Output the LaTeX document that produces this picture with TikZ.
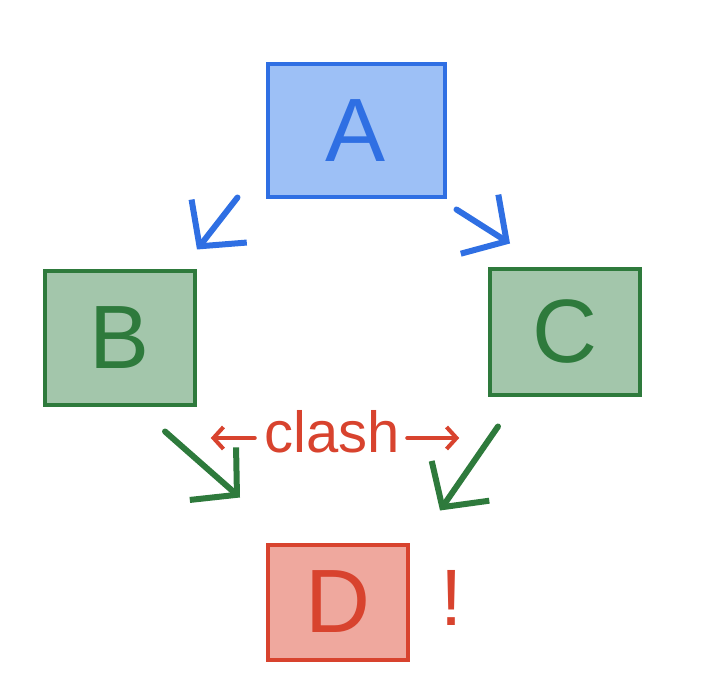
\documentclass[tikz,border=0pt]{standalone}
\usepackage{fontspec}
\setmainfont{Liberation Sans}
\usetikzlibrary{arrows.meta,calc}

\definecolor{penblue}{HTML}{2F6FE3}
\definecolor{fillblue}{HTML}{9DC0F6}
\definecolor{pengreen}{HTML}{2E7A3C}
\definecolor{fillgreen}{HTML}{A3C6AB}
\definecolor{penred}{HTML}{D8432E}
\definecolor{fillred}{HTML}{EFA89E}

\begin{document}
\begin{tikzpicture}[x=1pt, y=-1pt,
    box/.style={draw, line width=4pt, inner sep=0pt},
    letter/.style={font=\fontsize{90}{90}\selectfont},
    stroke/.style={line width=6pt, line cap=round, line join=round, -{Straight Barb[length=32pt, width=70pt, line width=6pt]}}]
    \useasboundingbox (0,0) rectangle (725,700);

    % A
    \node[box, letter, draw=penblue, fill=fillblue, text=penblue, minimum width=177pt, minimum height=133pt] (A) at (356,131) {A};

    % B and C
    \node[box, letter, draw=pengreen, fill=fillgreen, text=pengreen, minimum width=150pt, minimum height=133pt] (B) at (120,338) {B};
    \node[box, letter, draw=pengreen, fill=fillgreen, text=pengreen, minimum width=150pt, minimum height=125pt] (C) at (565,332) {C};

    % D
    \node[box, letter, draw=penred, fill=fillred, text=penred, minimum width=140pt, minimum height=115pt] (D) at (338,602) {D};
    \node[text=penred, font=\fontsize{80}{80}\selectfont] (bang) at (452,598) {!};

    % Arrows
    \draw[stroke, penblue] ($(A.south west)+(-28,-2)$) -- ($(B.north east)+(0,-20)$);
    \draw[stroke, penblue] ($(A.south east)+(10,10)$) -- ($(C.north west)+(22,-24)$);
    \draw[stroke, pengreen] ($(B.south east)+(-32,25)$) -- ($(D.north west)+(-26,-45)$);
    \draw[stroke, pengreen] ($(C.south west)+(10,30)$) -- ($(D.north east)+(30,-32)$);

    % Label
    \node[text=penred, font=\fontsize{58}{58}\selectfont] (clash) at (332,432) {clash};
    \draw[penred, line width=4pt, line cap=round, -{Straight Barb[length=10pt, width=22pt, line width=4pt]}] ([xshift=-6pt, yshift=-6pt]clash.west) -- ++(-44,0);
    \draw[penred, line width=4pt, line cap=round, -{Straight Barb[length=10pt, width=22pt, line width=4pt]}] ([xshift=4pt, yshift=-6pt]clash.east) -- ++(52,0);
\end{tikzpicture}
\end{document}
